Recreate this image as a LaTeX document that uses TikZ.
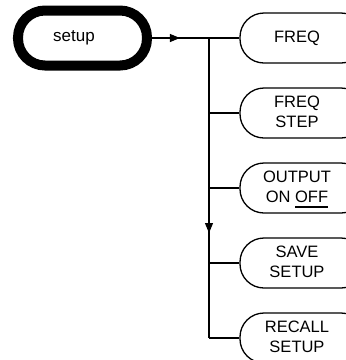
\documentclass[tikz,border=0pt]{standalone}
\usepackage{fontspec}
\setmainfont{Liberation Sans}
\usetikzlibrary{arrows.meta,decorations.markings}
% thick bar under the currently selected choice
\newcommand\selchoice[1]{\setbox0\hbox{#1}\rlap{\copy0}\rule[-5.5pt]{\wd0}{1.6pt}}
% softkey label, kept a little left of the key's middle
\newcommand\keytext[1]{\begin{tabular}{@{}c@{}}#1\end{tabular}\hspace*{11pt}}
\begin{document}
\begin{tikzpicture}[x=1pt,y=-1pt,
  menu/.style={draw, line width=1.3pt, rounded corners=24pt,
    minimum width=125pt, minimum height=50pt, inner sep=0pt,
    font=\fontsize{16.5}{20}\selectfont},
  root/.style={draw, line width=10pt, rounded corners=27pt,
    minimum width=129pt, minimum height=55pt, inner sep=0pt,
    font=\fontsize{17}{20}\selectfont},
  wire/.style={line width=1.1pt},
  tipat/.style={postaction=decorate, decoration={markings,
    mark=at position #1 with {\arrow{Triangle[length=10pt,width=8pt]}}}}
]
\useasboundingbox (0,0) rectangle (346,360);
\clip (0,0) rectangle (346,360);

% softkey menu root
\node[root] (setup) at (82.5,38) {\hspace*{-17pt}setup};

% branch points of the menu tree
\coordinate (fork) at (209,38);
\coordinate (last) at (209,338);

% softkeys
\node[menu] (freq)   at (302.5,38)  {\keytext{FREQ}};
\node[menu] (step)   at (302.5,113) {\keytext{FREQ\\STEP}};
\node[menu] (output) at (302.5,188) {\keytext{OUTPUT\\ON \selchoice{OFF}}};
\node[menu] (save)   at (302.5,263) {\keytext{SAVE\\SETUP}};
\node[menu] (recall) at (302.5,338) {\keytext{RECALL\\SETUP}};

% connectors
\draw[wire, tipat=0.49] (setup.east) -- (fork);
\draw[wire] (fork) -- (freq.west);
\draw[wire, tipat=0.65] (fork) -- (last);
\draw[wire] (fork |- step.west) -- (step.west);
\draw[wire] (fork |- output.west) -- (output.west);
\draw[wire] (fork |- save.west) -- (save.west);
\draw[wire] (last) -- (recall.west);
\end{tikzpicture}
\end{document}
